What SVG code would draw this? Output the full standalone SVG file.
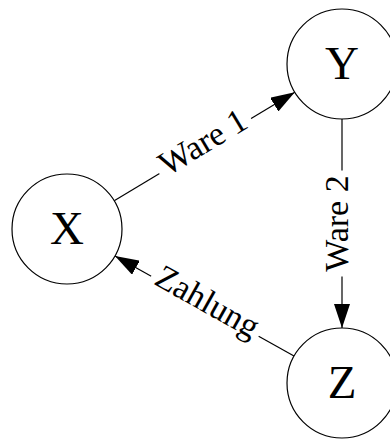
<svg xmlns="http://www.w3.org/2000/svg" width="390" height="440" viewBox="0 0 390 440">
<style>
  .node circle { fill: #ffffff; stroke: #000000; stroke-width: 1.2; }
  .node text { font-family: "Liberation Serif", "Times New Roman", serif; font-size: 47px; text-anchor: middle; fill: #000000; }
  .edge line { stroke: #000000; stroke-width: 1.2; }
  .label text { font-family: "Liberation Serif", "Times New Roman", serif; font-size: 34px; text-anchor: middle; fill: #000000; }
  .label rect { fill: #ffffff; stroke: none; }
</style>
<defs>
  <marker id="arrow" markerUnits="userSpaceOnUse" markerWidth="24" markerHeight="16" refX="24" refY="8" orient="auto">
    <path d="M0,0 L24,8 L0,16 Z" fill="#000000"/>
  </marker>
</defs>
<rect width="390" height="440" fill="#ffffff"/>
<g id="connectors" class="edge">
  <line id="edge-x-y" x1="114.2" y1="200.7" x2="294.8" y2="92.3" marker-end="url(#arrow)"/>
  <line id="edge-y-z" x1="342" y1="119" x2="342" y2="328" marker-end="url(#arrow)"/>
  <line id="edge-z-x" x1="294" y1="356" x2="115" y2="256" marker-end="url(#arrow)"/>
  <g class="label" transform="translate(205.5,146.5) rotate(-30.96)">
    <rect x="-53.5" y="-5" width="107" height="10"/>
    <text x="0" y="6">Ware 1</text>
  </g>
  <g class="label" transform="translate(342,223.5) rotate(-90)">
    <rect x="-53" y="-5" width="106" height="10"/>
    <text x="0" y="6">Ware 2</text>
  </g>
  <g class="label" transform="translate(205,306) rotate(29.25)">
    <rect x="-61.5" y="-5" width="123" height="10"/>
    <text x="0" y="6">Zahlung</text>
  </g>
</g>
<g id="node-x" class="node">
  <circle cx="67" cy="229" r="55"/>
  <text x="67" y="244">X</text>
</g>
<g id="node-y" class="node">
  <circle cx="342" cy="64" r="55"/>
  <text x="342" y="79">Y</text>
</g>
<g id="node-z" class="node">
  <circle cx="342" cy="383" r="55"/>
  <text x="342" y="398">Z</text>
</g>
</svg>
